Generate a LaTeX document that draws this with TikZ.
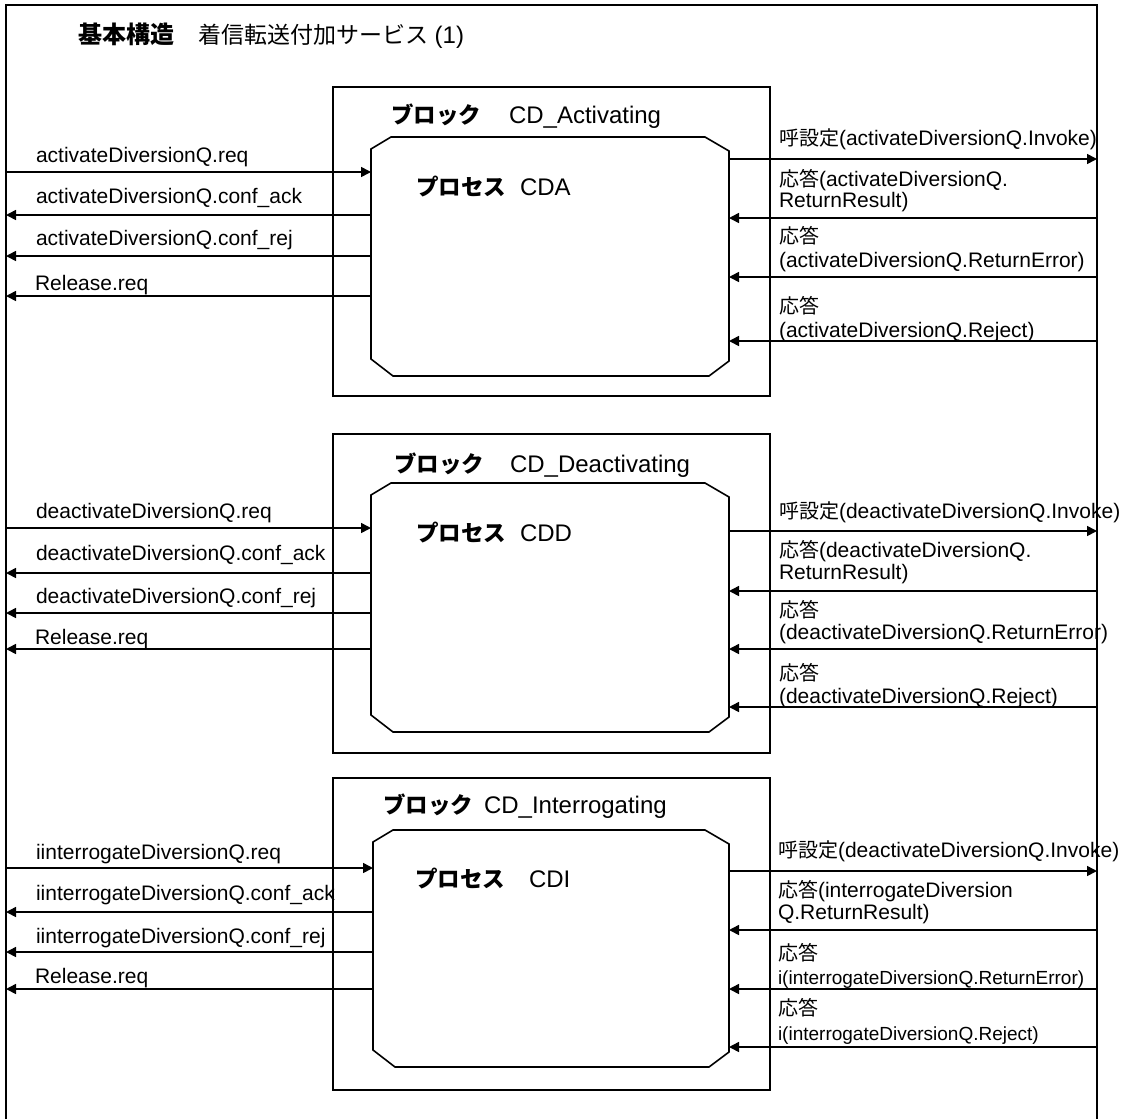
\documentclass[tikz,border=0pt]{standalone}
\usepackage{fontspec}
\setmainfont{Liberation Sans}
\newfontfamily\jp{Noto Sans CJK JP}
\usetikzlibrary{arrows.meta}
\newcommand\jpr[1]{{\jp\fontsize{20}{23}\selectfont #1}}
\newcommand\jpb[2]{{\jp\bfseries\fontsize{#1}{#1}\selectfont #2}}
\newcommand\twoln[3]{\vtop{\baselineskip=#1pt\lineskiplimit=-100pt\hbox{#2}\hbox{#3}}}
\newcommand\procoutline[1]{%
  \draw[line] ([xshift=20pt]#1.north west) -- ([xshift=-24pt]#1.north east)
    -- ([yshift=-14pt]#1.north east) -- ([yshift=15pt]#1.south east)
    -- ([xshift=-20pt]#1.south east) -- ([xshift=22pt]#1.south west)
    -- ([yshift=17pt]#1.south west) -- ([yshift=-12pt]#1.north west) -- cycle;}
\begin{document}
\begin{tikzpicture}[x=1pt,y=-1pt,
  every node/.style={inner sep=0pt, outer sep=0pt, font=\fontsize{21}{23}\selectfont},
  line/.style={line width=1.6pt},
  arr/.style={line width=1.6pt, -{Triangle[length=10pt,width=10pt]}},
  blockbox/.style={draw, line width=1.6pt, anchor=north west},
  procbox/.style={anchor=north west},
  lbl/.style={anchor=base west},
  smalllbl/.style={anchor=base west, font=\fontsize{19}{22}\selectfont},
  ttl/.style={anchor=base west, font=\fontsize{24}{26}\selectfont}]
\useasboundingbox (0,0) rectangle (1129,1119);
% outer frame (open at the bottom)
\draw[line] (6,1119) -- (6,5) -- (1097,5) -- (1097,1119);
\node[ttl] (title) at (78,43) {\makebox[120pt][l]{\jpb{24}{基本構造}}{\jp\fontsize{23}{26}\selectfont 着信転送付加サービス} (1)};

% ================= Block 1 =================
\node[blockbox, minimum width=437, minimum height=309] (B1) at (333,87) {};
\node[procbox, minimum width=358, minimum height=239] (P1) at (371,137) {};
\procoutline{P1}
\node[ttl] (B1t) at (391,123) {\makebox[118pt][l]{\jpb{22.5}{ブロック}}CD\_Activating};
\node[ttl] (P1t) at (416,195) {\makebox[104pt][l]{\jpb{22.5}{プロセス}}CDA};

\node[lbl] (l1a) at (36,162) {activateDiversionQ.req};
\node[lbl] (l1b) at (36,203) {activateDiversionQ.conf\_ack};
\node[lbl] (l1c) at (36,245) {activateDiversionQ.conf\_rej};
\node[lbl] (l1d) at (35,290) {Release.req};
\coordinate (f1a) at (6,172);
\coordinate (f1b) at (6,215);
\coordinate (f1c) at (6,256);
\coordinate (f1d) at (6,296);
\draw[arr] (f1a) -- (P1.west |- f1a);
\draw[arr] (P1.west |- f1b) -- (f1b);
\draw[arr] (P1.west |- f1c) -- (f1c);
\draw[arr] (P1.west |- f1d) -- (f1d);

\node[lbl] (r1a) at (779,145) {\jpr{呼設定}(activateDiversionQ.Invoke)};
\node[lbl] (r1b) at (779,186) {\twoln{21}{\jpr{応答}(activateDiversionQ.}{ReturnResult)}};
\node[lbl] (r1c) at (779,243) {\twoln{24}{\jpr{応答}}{(activateDiversionQ.ReturnError)}};
\node[lbl] (r1d) at (779,313) {\twoln{24}{\jpr{応答}}{(activateDiversionQ.Reject)}};
\coordinate (g1a) at (1097,159);
\coordinate (g1b) at (1097,218);
\coordinate (g1c) at (1097,277);
\coordinate (g1d) at (1097,341);
\draw[arr] (P1.east |- g1a) -- (g1a);
\draw[arr] (g1b) -- (P1.east |- g1b);
\draw[arr] (g1c) -- (P1.east |- g1c);
\draw[arr] (g1d) -- (P1.east |- g1d);

% ================= Block 2 =================
\node[blockbox, minimum width=437, minimum height=319] (B2) at (333,434) {};
\node[procbox, minimum width=358, minimum height=249] (P2) at (371,483) {};
\procoutline{P2}
\node[ttl] (B2t) at (394,472) {\makebox[116pt][l]{\jpb{22.5}{ブロック}}CD\_Deactivating};
\node[ttl] (P2t) at (416,541) {\makebox[104pt][l]{\jpb{22.5}{プロセス}}CDD};

\node[lbl] (l2a) at (36,518) {deactivateDiversionQ.req};
\node[lbl] (l2b) at (36,560) {deactivateDiversionQ.conf\_ack};
\node[lbl] (l2c) at (36,603) {deactivateDiversionQ.conf\_rej};
\node[lbl] (l2d) at (35,644) {Release.req};
\coordinate (f2a) at (6,528);
\coordinate (f2b) at (6,573);
\coordinate (f2c) at (6,613);
\coordinate (f2d) at (6,649);
\draw[arr] (f2a) -- (P2.west |- f2a);
\draw[arr] (P2.west |- f2b) -- (f2b);
\draw[arr] (P2.west |- f2c) -- (f2c);
\draw[arr] (P2.west |- f2d) -- (f2d);

\node[lbl] (r2a) at (779,518) {\jpr{呼設定}(deactivateDiversionQ.Invoke)};
\node[lbl] (r2b) at (779,557) {\twoln{22}{\jpr{応答}(deactivateDiversionQ.}{ReturnResult)}};
\node[lbl] (r2c) at (779,617) {\twoln{22}{\jpr{応答}}{(deactivateDiversionQ.ReturnError)}};
\node[lbl] (r2d) at (779,680) {\twoln{23}{\jpr{応答}}{(deactivateDiversionQ.Reject)}};
\coordinate (g2a) at (1097,531);
\coordinate (g2b) at (1097,591);
\coordinate (g2c) at (1097,649);
\coordinate (g2d) at (1097,707);
\draw[arr] (P2.east |- g2a) -- (g2a);
\draw[arr] (g2b) -- (P2.east |- g2b);
\draw[arr] (g2c) -- (P2.east |- g2c);
\draw[arr] (g2d) -- (P2.east |- g2d);

% ================= Block 3 =================
\node[blockbox, minimum width=437, minimum height=312] (B3) at (333,778) {};
\node[procbox, minimum width=356, minimum height=237] (P3) at (373,830) {};
\procoutline{P3}
\node[ttl] (B3t) at (383,813) {\makebox[101pt][l]{\jpb{22.5}{ブロック}}CD\_Interrogating};
\node[ttl] (P3t) at (415,887) {\makebox[114pt][l]{\jpb{22.5}{プロセス}}CDI};

\node[lbl] (l3a) at (36,859) {iinterrogateDiversionQ.req};
\node[lbl] (l3b) at (36,900) {iinterrogateDiversionQ.conf\_ack};
\node[lbl] (l3c) at (36,943) {iinterrogateDiversionQ.conf\_rej};
\node[lbl] (l3d) at (35,983) {Release.req};
\coordinate (f3a) at (6,868);
\coordinate (f3b) at (6,912);
\coordinate (f3c) at (6,952);
\coordinate (f3d) at (6,989);
\draw[arr] (f3a) -- (P3.west |- f3a);
\draw[arr] (P3.west |- f3b) -- (f3b);
\draw[arr] (P3.west |- f3c) -- (f3c);
\draw[arr] (P3.west |- f3d) -- (f3d);

\node[lbl] (r3a) at (778,857) {\jpr{呼設定}(deactivateDiversionQ.Invoke)};
\node[lbl] (r3b) at (778,897) {\twoln{22}{\jpr{応答}(interrogateDiversion}{Q.ReturnResult)}};
\node[smalllbl] (r3c) at (778,960) {\twoln{24}{\jpr{応答}}{i(interrogateDiversionQ.ReturnError)}};
\node[smalllbl] (r3d) at (778,1015) {\twoln{25}{\jpr{応答}}{i(interrogateDiversionQ.Reject)}};
\coordinate (g3a) at (1097,871);
\coordinate (g3b) at (1097,930);
\coordinate (g3c) at (1097,989);
\coordinate (g3d) at (1097,1047);
\draw[arr] (P3.east |- g3a) -- (g3a);
\draw[arr] (g3b) -- (P3.east |- g3b);
\draw[arr] (g3c) -- (P3.east |- g3c);
\draw[arr] (g3d) -- (P3.east |- g3d);
\end{tikzpicture}
\end{document}
